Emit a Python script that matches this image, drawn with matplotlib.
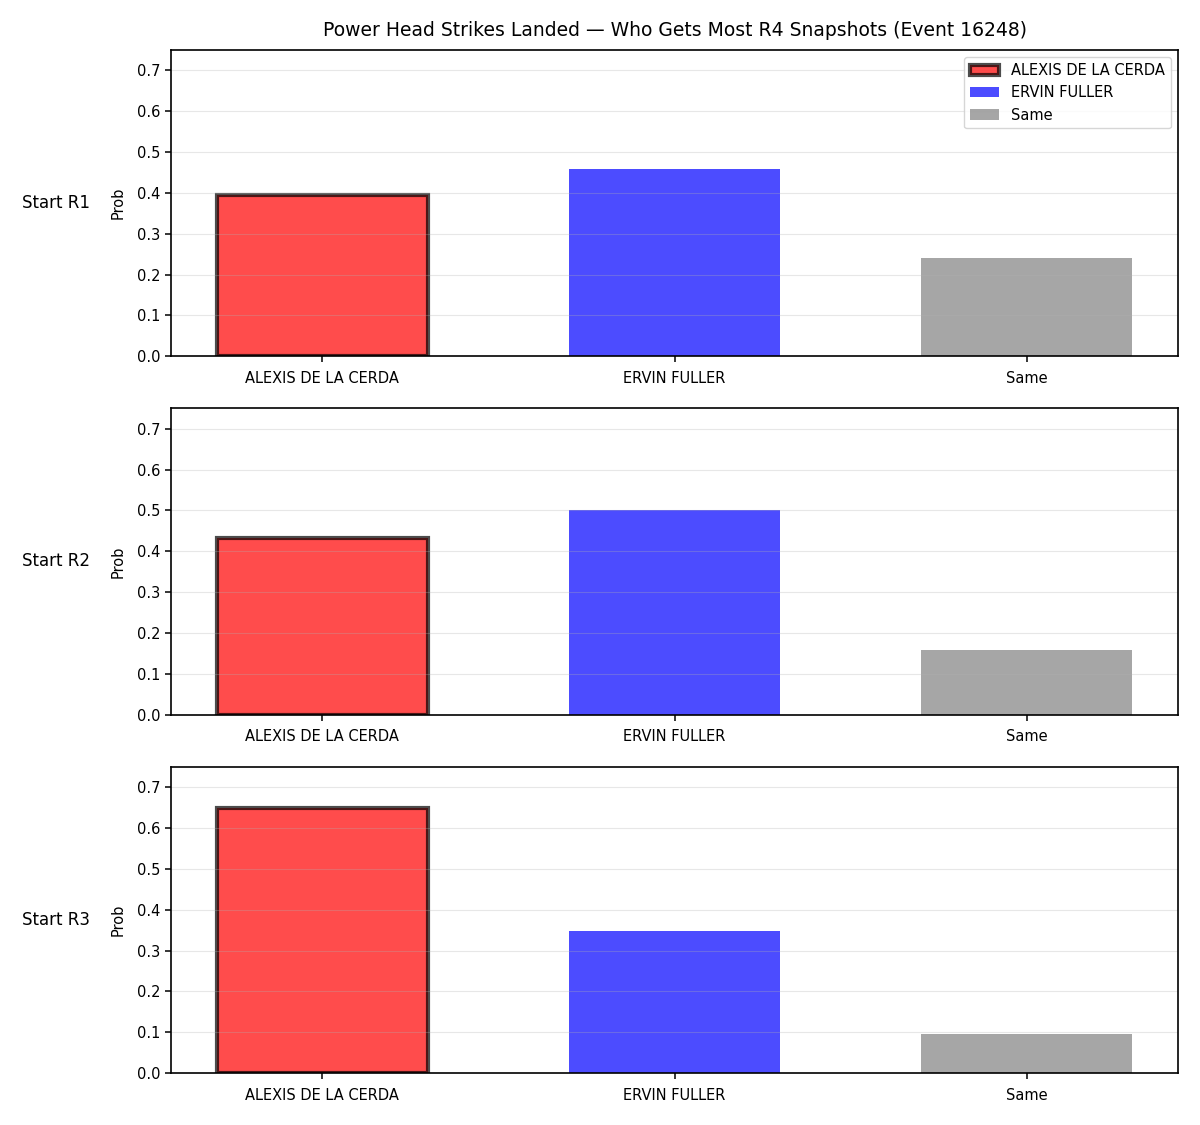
import numpy as np
import matplotlib.pyplot as plt

categories = ['ALEXIS DE LA CERDA', 'ERVIN FULLER', 'Same']
row_labels = ['Start R1', 'Start R2', 'Start R3']
probs_r1 = [0.395, 0.458, 0.240]
probs_r2 = [0.433, 0.502, 0.159]
probs_r3 = [0.650, 0.348, 0.095]
bar_colors = ['red', 'blue', 'gray']
title = 'Power Head Strikes Landed \u2014 Who Gets Most R4 Snapshots (Event 16248)'

all_probs = [probs_r1, probs_r2, probs_r3]

plt.rcParams['axes.linewidth'] = 1.2
plt.rcParams['xtick.major.size'] = 4.5
plt.rcParams['ytick.major.size'] = 4
plt.rcParams['xtick.major.pad'] = 6
plt.rcParams['xtick.major.width'] = 1.1
plt.rcParams['ytick.major.width'] = 1.1

fig, axes = plt.subplots(3, 1, figsize=(12, 11.25), dpi=100)
plt.subplots_adjust(left=0.1425, right=0.9817, top=0.9556, bottom=0.0462, hspace=0.17)

for k, ax in enumerate(axes):
    x = np.arange(len(categories))
    bars = ax.bar(x, all_probs[k], width=0.6, color=bar_colors, alpha=0.7,
                  label=categories)
    # the fighter outlined in black
    bars[0].set_edgecolor('black')
    bars[0].set_linewidth(3)
    ax.set_xticks(x)
    ax.set_xticklabels(categories, fontsize=10.5)
    ax.set_ylim(0, 0.75)
    ax.set_yticks(np.arange(0, 0.71, 0.1))
    ax.tick_params(axis='y', labelsize=10.5)
    ax.set_ylabel('Prob', fontsize=10.5, labelpad=8)
    ax.grid(axis='y', alpha=0.3)
    ax.text(-0.08, 0.5, row_labels[k], transform=ax.transAxes,
            ha='right', va='center', fontsize=12)
    if k == 0:
        ax.legend(loc='upper right', fontsize=10.5)

axes[0].set_title(title, fontsize=13.5, pad=10)

plt.savefig('out.png', dpi=100)
